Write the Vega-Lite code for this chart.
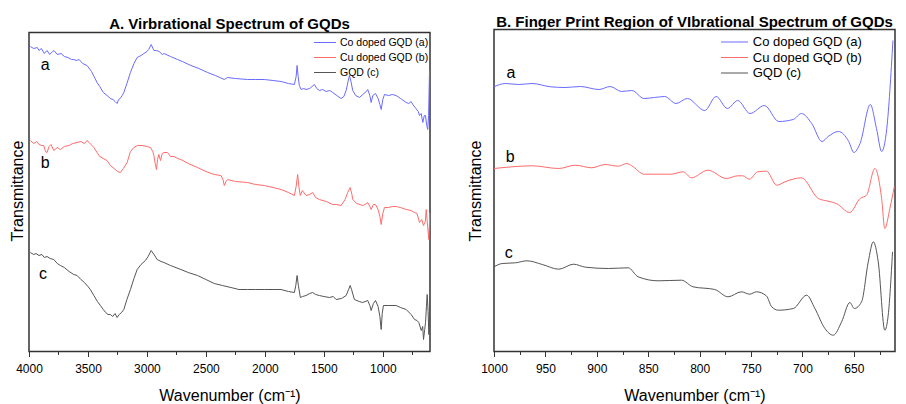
{
  "$schema": "https://vega.github.io/schema/vega-lite/v6.json",
  "background": "white",
  "padding": {"left": 9, "top": 13.5, "right": 0, "bottom": 0},
  "config": {
    "font": "Liberation Sans",
    "view": {"stroke": "#333333", "strokeWidth": 1.5},
    "concat": {"spacing": 35},
    "axis": {"labelFont": "Liberation Sans", "titleFont": "Liberation Sans", "labelColor": "#000000", "titleColor": "#000000", "titleFontWeight": "normal", "labelFontSize": 12, "titleFontSize": 16, "grid": false, "domain": false, "tickColor": "#333333"},
    "legend": {"labelFont": "Liberation Sans", "labelColor": "#000000"},
    "title": {"font": "Liberation Sans", "fontSize": 15, "fontWeight": "bold", "color": "#000000", "anchor": "middle"}
  },
  "datasets": {
    "left": [
      {"w":3989,"t":305,"s":"Co doped GQD (a)"},{"w":3960,"t":303,"s":"Co doped GQD (a)"},{"w":3930,"t":304,"s":"Co doped GQD (a)"},{"w":3915,"t":301,"s":"Co doped GQD (a)"},{"w":3895,"t":303,"s":"Co doped GQD (a)"},{"w":3870,"t":298,"s":"Co doped GQD (a)"},{"w":3847,"t":301,"s":"Co doped GQD (a)"},{"w":3825,"t":297,"s":"Co doped GQD (a)"},{"w":3800,"t":300,"s":"Co doped GQD (a)"},{"w":3788,"t":301,"s":"Co doped GQD (a)"},{"w":3760,"t":297,"s":"Co doped GQD (a)"},{"w":3728,"t":298,"s":"Co doped GQD (a)"},{"w":3700,"t":295,"s":"Co doped GQD (a)"},{"w":3670,"t":294,"s":"Co doped GQD (a)"},{"w":3640,"t":292,"s":"Co doped GQD (a)"},{"w":3620,"t":292,"s":"Co doped GQD (a)"},{"w":3600,"t":291,"s":"Co doped GQD (a)"},{"w":3575,"t":292,"s":"Co doped GQD (a)"},{"w":3545,"t":288,"s":"Co doped GQD (a)"},{"w":3508,"t":286,"s":"Co doped GQD (a)"},{"w":3470,"t":280,"s":"Co doped GQD (a)"},{"w":3440,"t":273,"s":"Co doped GQD (a)"},{"w":3423,"t":269,"s":"Co doped GQD (a)"},{"w":3400,"t":265,"s":"Co doped GQD (a)"},{"w":3370,"t":259,"s":"Co doped GQD (a)"},{"w":3338,"t":256,"s":"Co doped GQD (a)"},{"w":3310,"t":253,"s":"Co doped GQD (a)"},{"w":3287,"t":252,"s":"Co doped GQD (a)"},{"w":3270,"t":250,"s":"Co doped GQD (a)"},{"w":3253,"t":248,"s":"Co doped GQD (a)"},{"w":3240,"t":252,"s":"Co doped GQD (a)"},{"w":3227,"t":253,"s":"Co doped GQD (a)"},{"w":3210,"t":256,"s":"Co doped GQD (a)"},{"w":3196,"t":259,"s":"Co doped GQD (a)"},{"w":3170,"t":268,"s":"Co doped GQD (a)"},{"w":3140,"t":279,"s":"Co doped GQD (a)"},{"w":3110,"t":288,"s":"Co doped GQD (a)"},{"w":3083,"t":294,"s":"Co doped GQD (a)"},{"w":3050,"t":296,"s":"Co doped GQD (a)"},{"w":3026,"t":298,"s":"Co doped GQD (a)"},{"w":3000,"t":300,"s":"Co doped GQD (a)"},{"w":2985,"t":302,"s":"Co doped GQD (a)"},{"w":2964,"t":307,"s":"Co doped GQD (a)"},{"w":2941,"t":301,"s":"Co doped GQD (a)"},{"w":2920,"t":301,"s":"Co doped GQD (a)"},{"w":2896,"t":300,"s":"Co doped GQD (a)"},{"w":2870,"t":297,"s":"Co doped GQD (a)"},{"w":2856,"t":298,"s":"Co doped GQD (a)"},{"w":2800,"t":295,"s":"Co doped GQD (a)"},{"w":2741,"t":292,"s":"Co doped GQD (a)"},{"w":2700,"t":290,"s":"Co doped GQD (a)"},{"w":2627,"t":286,"s":"Co doped GQD (a)"},{"w":2560,"t":283,"s":"Co doped GQD (a)"},{"w":2486,"t":279,"s":"Co doped GQD (a)"},{"w":2420,"t":276,"s":"Co doped GQD (a)"},{"w":2344,"t":272,"s":"Co doped GQD (a)"},{"w":2316,"t":274,"s":"Co doped GQD (a)"},{"w":2250,"t":273,"s":"Co doped GQD (a)"},{"w":2147,"t":272,"s":"Co doped GQD (a)"},{"w":2080,"t":272,"s":"Co doped GQD (a)"},{"w":2005,"t":272,"s":"Co doped GQD (a)"},{"w":1930,"t":271,"s":"Co doped GQD (a)"},{"w":1863,"t":270,"s":"Co doped GQD (a)"},{"w":1800,"t":268,"s":"Co doped GQD (a)"},{"w":1750,"t":267,"s":"Co doped GQD (a)"},{"w":1735,"t":275,"s":"Co doped GQD (a)"},{"w":1727,"t":286,"s":"Co doped GQD (a)"},{"w":1718,"t":275,"s":"Co doped GQD (a)"},{"w":1708,"t":266,"s":"Co doped GQD (a)"},{"w":1693,"t":262,"s":"Co doped GQD (a)"},{"w":1670,"t":263,"s":"Co doped GQD (a)"},{"w":1651,"t":262,"s":"Co doped GQD (a)"},{"w":1620,"t":263,"s":"Co doped GQD (a)"},{"w":1580,"t":267,"s":"Co doped GQD (a)"},{"w":1560,"t":263,"s":"Co doped GQD (a)"},{"w":1538,"t":261,"s":"Co doped GQD (a)"},{"w":1510,"t":262,"s":"Co doped GQD (a)"},{"w":1481,"t":260,"s":"Co doped GQD (a)"},{"w":1450,"t":261,"s":"Co doped GQD (a)"},{"w":1425,"t":259,"s":"Co doped GQD (a)"},{"w":1390,"t":256,"s":"Co doped GQD (a)"},{"w":1354,"t":253,"s":"Co doped GQD (a)"},{"w":1330,"t":255,"s":"Co doped GQD (a)"},{"w":1311,"t":261,"s":"Co doped GQD (a)"},{"w":1295,"t":270,"s":"Co doped GQD (a)"},{"w":1283,"t":276,"s":"Co doped GQD (a)"},{"w":1270,"t":270,"s":"Co doped GQD (a)"},{"w":1255,"t":261,"s":"Co doped GQD (a)"},{"w":1230,"t":256,"s":"Co doped GQD (a)"},{"w":1198,"t":254,"s":"Co doped GQD (a)"},{"w":1170,"t":257,"s":"Co doped GQD (a)"},{"w":1140,"t":260,"s":"Co doped GQD (a)"},{"w":1128,"t":262,"s":"Co doped GQD (a)"},{"w":1110,"t":256,"s":"Co doped GQD (a)"},{"w":1099,"t":249,"s":"Co doped GQD (a)"},{"w":1085,"t":256,"s":"Co doped GQD (a)"},{"w":1062,"t":258,"s":"Co doped GQD (a)"},{"w":1040,"t":253,"s":"Co doped GQD (a)"},{"w":1025,"t":247,"s":"Co doped GQD (a)"},{"w":1014,"t":242,"s":"Co doped GQD (a)"},{"w":1000,"t":252,"s":"Co doped GQD (a)"},{"w":986,"t":257,"s":"Co doped GQD (a)"},{"w":950,"t":256,"s":"Co doped GQD (a)"},{"w":920,"t":257,"s":"Co doped GQD (a)"},{"w":887,"t":256,"s":"Co doped GQD (a)"},{"w":850,"t":253,"s":"Co doped GQD (a)"},{"w":802,"t":249,"s":"Co doped GQD (a)"},{"w":780,"t":248,"s":"Co doped GQD (a)"},{"w":760,"t":250,"s":"Co doped GQD (a)"},{"w":746,"t":247,"s":"Co doped GQD (a)"},{"w":720,"t":243,"s":"Co doped GQD (a)"},{"w":700,"t":240,"s":"Co doped GQD (a)"},{"w":689,"t":236,"s":"Co doped GQD (a)"},{"w":675,"t":238,"s":"Co doped GQD (a)"},{"w":661,"t":229,"s":"Co doped GQD (a)"},{"w":648,"t":236,"s":"Co doped GQD (a)"},{"w":638,"t":236,"s":"Co doped GQD (a)"},{"w":628,"t":226,"s":"Co doped GQD (a)"},{"w":619,"t":222,"s":"Co doped GQD (a)"},{"w":612,"t":236,"s":"Co doped GQD (a)"},{"w":604,"t":281,"s":"Co doped GQD (a)"},
      {"w":3989,"t":211,"s":"Cu doped GQD (b)"},{"w":3960,"t":208,"s":"Cu doped GQD (b)"},{"w":3935,"t":210,"s":"Cu doped GQD (b)"},{"w":3915,"t":207,"s":"Cu doped GQD (b)"},{"w":3890,"t":206,"s":"Cu doped GQD (b)"},{"w":3875,"t":206,"s":"Cu doped GQD (b)"},{"w":3860,"t":200,"s":"Cu doped GQD (b)"},{"w":3847,"t":199,"s":"Cu doped GQD (b)"},{"w":3830,"t":205,"s":"Cu doped GQD (b)"},{"w":3813,"t":207,"s":"Cu doped GQD (b)"},{"w":3790,"t":201,"s":"Cu doped GQD (b)"},{"w":3760,"t":204,"s":"Cu doped GQD (b)"},{"w":3734,"t":202,"s":"Cu doped GQD (b)"},{"w":3700,"t":205,"s":"Cu doped GQD (b)"},{"w":3660,"t":206,"s":"Cu doped GQD (b)"},{"w":3630,"t":208,"s":"Cu doped GQD (b)"},{"w":3592,"t":209,"s":"Cu doped GQD (b)"},{"w":3560,"t":210,"s":"Cu doped GQD (b)"},{"w":3530,"t":208,"s":"Cu doped GQD (b)"},{"w":3508,"t":211,"s":"Cu doped GQD (b)"},{"w":3490,"t":209,"s":"Cu doped GQD (b)"},{"w":3474,"t":207,"s":"Cu doped GQD (b)"},{"w":3450,"t":204,"s":"Cu doped GQD (b)"},{"w":3423,"t":199,"s":"Cu doped GQD (b)"},{"w":3400,"t":195,"s":"Cu doped GQD (b)"},{"w":3370,"t":193,"s":"Cu doped GQD (b)"},{"w":3338,"t":191,"s":"Cu doped GQD (b)"},{"w":3310,"t":186,"s":"Cu doped GQD (b)"},{"w":3278,"t":183,"s":"Cu doped GQD (b)"},{"w":3250,"t":180,"s":"Cu doped GQD (b)"},{"w":3225,"t":179,"s":"Cu doped GQD (b)"},{"w":3200,"t":183,"s":"Cu doped GQD (b)"},{"w":3168,"t":189,"s":"Cu doped GQD (b)"},{"w":3140,"t":200,"s":"Cu doped GQD (b)"},{"w":3111,"t":204,"s":"Cu doped GQD (b)"},{"w":3080,"t":206,"s":"Cu doped GQD (b)"},{"w":3041,"t":206,"s":"Cu doped GQD (b)"},{"w":3000,"t":205,"s":"Cu doped GQD (b)"},{"w":2970,"t":204,"s":"Cu doped GQD (b)"},{"w":2950,"t":200,"s":"Cu doped GQD (b)"},{"w":2941,"t":196,"s":"Cu doped GQD (b)"},{"w":2930,"t":188,"s":"Cu doped GQD (b)"},{"w":2919,"t":182,"s":"Cu doped GQD (b)"},{"w":2910,"t":192,"s":"Cu doped GQD (b)"},{"w":2899,"t":197,"s":"Cu doped GQD (b)"},{"w":2885,"t":191,"s":"Cu doped GQD (b)"},{"w":2870,"t":198,"s":"Cu doped GQD (b)"},{"w":2856,"t":199,"s":"Cu doped GQD (b)"},{"w":2826,"t":199,"s":"Cu doped GQD (b)"},{"w":2800,"t":195,"s":"Cu doped GQD (b)"},{"w":2770,"t":195,"s":"Cu doped GQD (b)"},{"w":2740,"t":193,"s":"Cu doped GQD (b)"},{"w":2712,"t":192,"s":"Cu doped GQD (b)"},{"w":2650,"t":188,"s":"Cu doped GQD (b)"},{"w":2571,"t":184,"s":"Cu doped GQD (b)"},{"w":2500,"t":180,"s":"Cu doped GQD (b)"},{"w":2429,"t":177,"s":"Cu doped GQD (b)"},{"w":2372,"t":176,"s":"Cu doped GQD (b)"},{"w":2355,"t":172,"s":"Cu doped GQD (b)"},{"w":2344,"t":166,"s":"Cu doped GQD (b)"},{"w":2330,"t":170,"s":"Cu doped GQD (b)"},{"w":2316,"t":172,"s":"Cu doped GQD (b)"},{"w":2250,"t":170,"s":"Cu doped GQD (b)"},{"w":2147,"t":169,"s":"Cu doped GQD (b)"},{"w":2080,"t":167,"s":"Cu doped GQD (b)"},{"w":2005,"t":166,"s":"Cu doped GQD (b)"},{"w":1930,"t":164,"s":"Cu doped GQD (b)"},{"w":1863,"t":162,"s":"Cu doped GQD (b)"},{"w":1800,"t":159,"s":"Cu doped GQD (b)"},{"w":1750,"t":156,"s":"Cu doped GQD (b)"},{"w":1735,"t":165,"s":"Cu doped GQD (b)"},{"w":1722,"t":177,"s":"Cu doped GQD (b)"},{"w":1712,"t":165,"s":"Cu doped GQD (b)"},{"w":1700,"t":156,"s":"Cu doped GQD (b)"},{"w":1682,"t":161,"s":"Cu doped GQD (b)"},{"w":1651,"t":156,"s":"Cu doped GQD (b)"},{"w":1620,"t":157,"s":"Cu doped GQD (b)"},{"w":1595,"t":159,"s":"Cu doped GQD (b)"},{"w":1570,"t":154,"s":"Cu doped GQD (b)"},{"w":1538,"t":152,"s":"Cu doped GQD (b)"},{"w":1480,"t":150,"s":"Cu doped GQD (b)"},{"w":1425,"t":147,"s":"Cu doped GQD (b)"},{"w":1390,"t":147,"s":"Cu doped GQD (b)"},{"w":1354,"t":146,"s":"Cu doped GQD (b)"},{"w":1320,"t":152,"s":"Cu doped GQD (b)"},{"w":1298,"t":159,"s":"Cu doped GQD (b)"},{"w":1277,"t":164,"s":"Cu doped GQD (b)"},{"w":1262,"t":157,"s":"Cu doped GQD (b)"},{"w":1255,"t":152,"s":"Cu doped GQD (b)"},{"w":1220,"t":148,"s":"Cu doped GQD (b)"},{"w":1170,"t":146,"s":"Cu doped GQD (b)"},{"w":1150,"t":147,"s":"Cu doped GQD (b)"},{"w":1128,"t":149,"s":"Cu doped GQD (b)"},{"w":1110,"t":145,"s":"Cu doped GQD (b)"},{"w":1099,"t":142,"s":"Cu doped GQD (b)"},{"w":1080,"t":147,"s":"Cu doped GQD (b)"},{"w":1062,"t":147,"s":"Cu doped GQD (b)"},{"w":1040,"t":142,"s":"Cu doped GQD (b)"},{"w":1025,"t":135,"s":"Cu doped GQD (b)"},{"w":1014,"t":127,"s":"Cu doped GQD (b)"},{"w":1000,"t":138,"s":"Cu doped GQD (b)"},{"w":986,"t":144,"s":"Cu doped GQD (b)"},{"w":950,"t":144,"s":"Cu doped GQD (b)"},{"w":920,"t":145,"s":"Cu doped GQD (b)"},{"w":887,"t":145,"s":"Cu doped GQD (b)"},{"w":850,"t":144,"s":"Cu doped GQD (b)"},{"w":802,"t":142,"s":"Cu doped GQD (b)"},{"w":760,"t":141,"s":"Cu doped GQD (b)"},{"w":731,"t":139,"s":"Cu doped GQD (b)"},{"w":710,"t":138,"s":"Cu doped GQD (b)"},{"w":689,"t":129,"s":"Cu doped GQD (b)"},{"w":670,"t":132,"s":"Cu doped GQD (b)"},{"w":655,"t":126,"s":"Cu doped GQD (b)"},{"w":640,"t":130,"s":"Cu doped GQD (b)"},{"w":632,"t":142,"s":"Cu doped GQD (b)"},{"w":620,"t":125,"s":"Cu doped GQD (b)"},{"w":610,"t":112,"s":"Cu doped GQD (b)"},{"w":601,"t":139,"s":"Cu doped GQD (b)"},
      {"w":3989,"t":99,"s":"GQD (c)"},{"w":3960,"t":97,"s":"GQD (c)"},{"w":3940,"t":98,"s":"GQD (c)"},{"w":3915,"t":96,"s":"GQD (c)"},{"w":3890,"t":97,"s":"GQD (c)"},{"w":3870,"t":94,"s":"GQD (c)"},{"w":3847,"t":95,"s":"GQD (c)"},{"w":3820,"t":93,"s":"GQD (c)"},{"w":3790,"t":92,"s":"GQD (c)"},{"w":3760,"t":88,"s":"GQD (c)"},{"w":3734,"t":86,"s":"GQD (c)"},{"w":3700,"t":84,"s":"GQD (c)"},{"w":3660,"t":80,"s":"GQD (c)"},{"w":3620,"t":77,"s":"GQD (c)"},{"w":3592,"t":76,"s":"GQD (c)"},{"w":3560,"t":72,"s":"GQD (c)"},{"w":3530,"t":69,"s":"GQD (c)"},{"w":3500,"t":65,"s":"GQD (c)"},{"w":3480,"t":62,"s":"GQD (c)"},{"w":3450,"t":56,"s":"GQD (c)"},{"w":3420,"t":50,"s":"GQD (c)"},{"w":3395,"t":46,"s":"GQD (c)"},{"w":3370,"t":42,"s":"GQD (c)"},{"w":3350,"t":39,"s":"GQD (c)"},{"w":3330,"t":37,"s":"GQD (c)"},{"w":3310,"t":37,"s":"GQD (c)"},{"w":3290,"t":35,"s":"GQD (c)"},{"w":3270,"t":38,"s":"GQD (c)"},{"w":3253,"t":34,"s":"GQD (c)"},{"w":3235,"t":37,"s":"GQD (c)"},{"w":3215,"t":39,"s":"GQD (c)"},{"w":3196,"t":42,"s":"GQD (c)"},{"w":3170,"t":52,"s":"GQD (c)"},{"w":3140,"t":62,"s":"GQD (c)"},{"w":3110,"t":73,"s":"GQD (c)"},{"w":3083,"t":82,"s":"GQD (c)"},{"w":3050,"t":87,"s":"GQD (c)"},{"w":3013,"t":91,"s":"GQD (c)"},{"w":2990,"t":95,"s":"GQD (c)"},{"w":2964,"t":101,"s":"GQD (c)"},{"w":2940,"t":97,"s":"GQD (c)"},{"w":2913,"t":92,"s":"GQD (c)"},{"w":2880,"t":90,"s":"GQD (c)"},{"w":2856,"t":89,"s":"GQD (c)"},{"w":2800,"t":86,"s":"GQD (c)"},{"w":2712,"t":82,"s":"GQD (c)"},{"w":2650,"t":79,"s":"GQD (c)"},{"w":2571,"t":76,"s":"GQD (c)"},{"w":2500,"t":72,"s":"GQD (c)"},{"w":2429,"t":68,"s":"GQD (c)"},{"w":2360,"t":66,"s":"GQD (c)"},{"w":2288,"t":64,"s":"GQD (c)"},{"w":2220,"t":62,"s":"GQD (c)"},{"w":2147,"t":62,"s":"GQD (c)"},{"w":2080,"t":62,"s":"GQD (c)"},{"w":2005,"t":62,"s":"GQD (c)"},{"w":1930,"t":62,"s":"GQD (c)"},{"w":1863,"t":62,"s":"GQD (c)"},{"w":1800,"t":60,"s":"GQD (c)"},{"w":1750,"t":59,"s":"GQD (c)"},{"w":1738,"t":66,"s":"GQD (c)"},{"w":1727,"t":76,"s":"GQD (c)"},{"w":1716,"t":66,"s":"GQD (c)"},{"w":1699,"t":54,"s":"GQD (c)"},{"w":1680,"t":55,"s":"GQD (c)"},{"w":1651,"t":56,"s":"GQD (c)"},{"w":1620,"t":58,"s":"GQD (c)"},{"w":1595,"t":59,"s":"GQD (c)"},{"w":1570,"t":57,"s":"GQD (c)"},{"w":1538,"t":56,"s":"GQD (c)"},{"w":1500,"t":55,"s":"GQD (c)"},{"w":1453,"t":54,"s":"GQD (c)"},{"w":1420,"t":55,"s":"GQD (c)"},{"w":1396,"t":52,"s":"GQD (c)"},{"w":1350,"t":53,"s":"GQD (c)"},{"w":1311,"t":56,"s":"GQD (c)"},{"w":1290,"t":62,"s":"GQD (c)"},{"w":1277,"t":66,"s":"GQD (c)"},{"w":1265,"t":62,"s":"GQD (c)"},{"w":1241,"t":52,"s":"GQD (c)"},{"w":1200,"t":50,"s":"GQD (c)"},{"w":1170,"t":49,"s":"GQD (c)"},{"w":1128,"t":51,"s":"GQD (c)"},{"w":1110,"t":46,"s":"GQD (c)"},{"w":1099,"t":41,"s":"GQD (c)"},{"w":1080,"t":48,"s":"GQD (c)"},{"w":1062,"t":51,"s":"GQD (c)"},{"w":1040,"t":45,"s":"GQD (c)"},{"w":1025,"t":35,"s":"GQD (c)"},{"w":1014,"t":22,"s":"GQD (c)"},{"w":1005,"t":38,"s":"GQD (c)"},{"w":995,"t":46,"s":"GQD (c)"},{"w":950,"t":46,"s":"GQD (c)"},{"w":887,"t":46,"s":"GQD (c)"},{"w":850,"t":44,"s":"GQD (c)"},{"w":802,"t":42,"s":"GQD (c)"},{"w":760,"t":37,"s":"GQD (c)"},{"w":731,"t":32,"s":"GQD (c)"},{"w":710,"t":31,"s":"GQD (c)"},{"w":695,"t":29,"s":"GQD (c)"},{"w":674,"t":21,"s":"GQD (c)"},{"w":662,"t":25,"s":"GQD (c)"},{"w":655,"t":12,"s":"GQD (c)"},{"w":645,"t":22,"s":"GQD (c)"},{"w":638,"t":29,"s":"GQD (c)"},{"w":630,"t":45,"s":"GQD (c)"},{"w":624,"t":57,"s":"GQD (c)"},{"w":616,"t":40,"s":"GQD (c)"},{"w":610,"t":17,"s":"GQD (c)"},{"w":603,"t":40,"s":"GQD (c)"},{"w":601,"t":56,"s":"GQD (c)"}
    ],
    "leftLabels": [
      {"w":3862,"t":281.7,"label":"a"},{"w":3862,"t":184,"label":"b"},{"w":3881,"t":72.3,"label":"c"}
    ],
    "leftFrame": [
      {"w1":600,"w2":4000,"t1":0,"t2":319}
    ],
    "right": [
      {"w":1000,"t":264.7,"s":"Co doped GQD (a)"},{"w":989,"t":268,"s":"Co doped GQD (a)"},{"w":976,"t":267,"s":"Co doped GQD (a)"},{"w":963,"t":268,"s":"Co doped GQD (a)"},{"w":945,"t":264.7,"s":"Co doped GQD (a)"},{"w":931,"t":264,"s":"Co doped GQD (a)"},{"w":916,"t":265,"s":"Co doped GQD (a)"},{"w":898,"t":262,"s":"Co doped GQD (a)"},{"w":887,"t":265,"s":"Co doped GQD (a)"},{"w":876,"t":260,"s":"Co doped GQD (a)"},{"w":866,"t":261,"s":"Co doped GQD (a)"},{"w":854,"t":253,"s":"Co doped GQD (a)"},{"w":844,"t":254,"s":"Co doped GQD (a)"},{"w":834,"t":255,"s":"Co doped GQD (a)"},{"w":823,"t":248,"s":"Co doped GQD (a)"},{"w":812,"t":253,"s":"Co doped GQD (a)"},{"w":795,"t":241,"s":"Co doped GQD (a)"},{"w":784,"t":255,"s":"Co doped GQD (a)"},{"w":773,"t":243,"s":"Co doped GQD (a)"},{"w":763,"t":251,"s":"Co doped GQD (a)"},{"w":751,"t":238,"s":"Co doped GQD (a)"},{"w":737,"t":246,"s":"Co doped GQD (a)"},{"w":723,"t":230,"s":"Co doped GQD (a)"},{"w":709,"t":232,"s":"Co doped GQD (a)"},{"w":701,"t":238,"s":"Co doped GQD (a)"},{"w":691,"t":228,"s":"Co doped GQD (a)"},{"w":681,"t":210,"s":"Co doped GQD (a)"},{"w":675,"t":215,"s":"Co doped GQD (a)"},{"w":665,"t":220,"s":"Co doped GQD (a)"},{"w":655,"t":210,"s":"Co doped GQD (a)"},{"w":650,"t":199,"s":"Co doped GQD (a)"},{"w":644,"t":208,"s":"Co doped GQD (a)"},{"w":634,"t":247,"s":"Co doped GQD (a)"},{"w":628,"t":223,"s":"Co doped GQD (a)"},{"w":623,"t":200,"s":"Co doped GQD (a)"},{"w":618,"t":223,"s":"Co doped GQD (a)"},{"w":612,"t":311,"s":"Co doped GQD (a)"},
      {"w":1000,"t":183,"s":"Cu doped GQD (b)"},{"w":982.5,"t":184.7,"s":"Cu doped GQD (b)"},{"w":963,"t":185.7,"s":"Cu doped GQD (b)"},{"w":937,"t":183,"s":"Cu doped GQD (b)"},{"w":921,"t":186.3,"s":"Cu doped GQD (b)"},{"w":905,"t":183.7,"s":"Cu doped GQD (b)"},{"w":892,"t":187,"s":"Cu doped GQD (b)"},{"w":879,"t":185.3,"s":"Cu doped GQD (b)"},{"w":871,"t":188,"s":"Cu doped GQD (b)"},{"w":866,"t":185.7,"s":"Cu doped GQD (b)"},{"w":854,"t":177.3,"s":"Cu doped GQD (b)"},{"w":828,"t":177.3,"s":"Cu doped GQD (b)"},{"w":816,"t":179.7,"s":"Cu doped GQD (b)"},{"w":808,"t":173.7,"s":"Cu doped GQD (b)"},{"w":792,"t":181.3,"s":"Cu doped GQD (b)"},{"w":774,"t":173,"s":"Cu doped GQD (b)"},{"w":763,"t":175.7,"s":"Cu doped GQD (b)"},{"w":758,"t":175.7,"s":"Cu doped GQD (b)"},{"w":751.6,"t":172.3,"s":"Cu doped GQD (b)"},{"w":743.5,"t":179.7,"s":"Cu doped GQD (b)"},{"w":735,"t":180.3,"s":"Cu doped GQD (b)"},{"w":725,"t":166.3,"s":"Cu doped GQD (b)"},{"w":717,"t":169.7,"s":"Cu doped GQD (b)"},{"w":701,"t":173.7,"s":"Cu doped GQD (b)"},{"w":684.6,"t":153,"s":"Cu doped GQD (b)"},{"w":675,"t":150.3,"s":"Cu doped GQD (b)"},{"w":667,"t":148,"s":"Cu doped GQD (b)"},{"w":654,"t":139,"s":"Cu doped GQD (b)"},{"w":644,"t":153,"s":"Cu doped GQD (b)"},{"w":637.7,"t":156.3,"s":"Cu doped GQD (b)"},{"w":629.6,"t":183,"s":"Cu doped GQD (b)"},{"w":623,"t":153,"s":"Cu doped GQD (b)"},{"w":619.9,"t":123,"s":"Cu doped GQD (b)"},{"w":615,"t":143,"s":"Cu doped GQD (b)"},{"w":610.7,"t":164.7,"s":"Cu doped GQD (b)"},
      {"w":1000,"t":84.7,"s":"GQD (c)"},{"w":992,"t":88,"s":"GQD (c)"},{"w":979,"t":88.7,"s":"GQD (c)"},{"w":968,"t":90.7,"s":"GQD (c)"},{"w":953,"t":87,"s":"GQD (c)"},{"w":937,"t":82.3,"s":"GQD (c)"},{"w":922.6,"t":87.3,"s":"GQD (c)"},{"w":911,"t":84.3,"s":"GQD (c)"},{"w":888.6,"t":83,"s":"GQD (c)"},{"w":869.5,"t":83.7,"s":"GQD (c)"},{"w":859.8,"t":74.7,"s":"GQD (c)"},{"w":840.4,"t":70.7,"s":"GQD (c)"},{"w":817.7,"t":71.3,"s":"GQD (c)"},{"w":806.4,"t":64.7,"s":"GQD (c)"},{"w":785.3,"t":62,"s":"GQD (c)"},{"w":772.4,"t":54.7,"s":"GQD (c)"},{"w":759.4,"t":59.7,"s":"GQD (c)"},{"w":751.3,"t":57.3,"s":"GQD (c)"},{"w":744.8,"t":59.7,"s":"GQD (c)"},{"w":735.1,"t":55.7,"s":"GQD (c)"},{"w":729.9,"t":44.7,"s":"GQD (c)"},{"w":723.4,"t":41.3,"s":"GQD (c)"},{"w":708.9,"t":43,"s":"GQD (c)"},{"w":695.9,"t":56.3,"s":"GQD (c)"},{"w":687.9,"t":43,"s":"GQD (c)"},{"w":678.2,"t":23,"s":"GQD (c)"},{"w":670,"t":16.3,"s":"GQD (c)"},{"w":661.9,"t":29.7,"s":"GQD (c)"},{"w":653.9,"t":49,"s":"GQD (c)"},{"w":649.6,"t":43,"s":"GQD (c)"},{"w":642.5,"t":49.7,"s":"GQD (c)"},{"w":636,"t":89.7,"s":"GQD (c)"},{"w":631.1,"t":109.7,"s":"GQD (c)"},{"w":626.3,"t":89.7,"s":"GQD (c)"},{"w":619.9,"t":21.3,"s":"GQD (c)"},{"w":616.6,"t":36.3,"s":"GQD (c)"},{"w":612.4,"t":99.7,"s":"GQD (c)"}
    ],
    "rightLabels": [
      {"w":983.5,"t":273.7,"label":"a"},{"w":984.2,"t":189.7,"label":"b"},{"w":985.7,"t":93.7,"label":"c"}
    ]
  },
  "hconcat": [
    {
      "width": 401,
      "height": 322,
      "view": {"stroke": null},
      "title": {"text": "A. Virbrational Spectrum of GQDs", "offset": -2},
      "layer": [
        {
          "data": {"name": "leftFrame"},
          "mark": {"type": "rect", "fill": "transparent", "stroke": "#333333", "strokeWidth": 1.5},
          "encoding": {
            "x": {"field": "w1", "type": "quantitative", "axis": null},
            "x2": {"field": "w2"},
            "y": {"field": "t1", "type": "quantitative"},
            "y2": {"field": "t2"}
          }
        },
        {
          "data": {"name": "left"},
          "mark": {"type": "line", "strokeWidth": 1, "clip": true},
          "encoding": {
            "x": {"field": "w", "type": "quantitative", "scale": {"domain": [600, 4000], "reverse": true, "nice": false, "zero": false},
              "axis": {"title": "Wavenumber (cm⁻¹)", "format": "d", "orient": "bottom", "values": [4000,3500,3000,2500,2000,1500,1000], "tickSize": 5, "labelOverlap": false, "labelFlush": false, "labelPadding": 7, "titlePadding": 13}},
            "y": {"field": "t", "type": "quantitative", "scale": {"domain": [0, 322], "nice": false, "zero": false},
              "axis": {"title": "Transmittance", "labels": false, "ticks": false, "titlePadding": 4}},
            "color": {"field": "s", "type": "nominal",
              "scale": {"domain": ["Co doped GQD (a)", "Cu doped GQD (b)", "GQD (c)"], "range": ["#6a6aff", "#ff6a6a", "#555555"]},
              "legend": {"title": null, "orient": "none", "legendX": 290, "legendY": 7, "symbolType": "M-2,0H2", "symbolSize": 121, "symbolStrokeWidth": 1, "labelFontSize": 10.5, "rowPadding": 3, "labelOffset": 9, "padding": 0}}
          }
        },
        {
          "data": {"name": "leftLabels"},
          "mark": {"type": "text", "fontSize": 16, "baseline": "alphabetic", "align": "center", "font": "Liberation Sans", "color": "#000000"},
          "encoding": {
            "x": {"field": "w", "type": "quantitative",
              "axis": {"title": null, "orient": "bottom", "values": [3750,3250,2750,2250,1750,1250,750], "labels": false, "tickSize": 3}},
            "y": {"field": "t", "type": "quantitative"},
            "text": {"field": "label", "type": "nominal"}
          }
        }
      ],
      "resolve": {"axis": {"x": "independent"}}
    },
    {
      "width": 401,
      "height": 322,
      "title": {"text": "B. Finger Print Region of VIbrational Spectrum of GQDs", "offset": -0.5},
      "layer": [
        {
          "data": {"name": "right"},
          "mark": {"type": "line", "strokeWidth": 1, "clip": true, "interpolate": "monotone"},
          "encoding": {
            "x": {"field": "w", "type": "quantitative", "scale": {"domain": [610, 1000], "reverse": true, "nice": false, "zero": false},
              "axis": {"title": "Wavenumber (cm⁻¹)", "format": "d", "orient": "bottom", "values": [1000,950,900,850,800,750,700,650], "tickSize": 5, "labelOverlap": false, "labelFlush": false, "labelPadding": 7, "titlePadding": 13}},
            "y": {"field": "t", "type": "quantitative", "scale": {"domain": [0, 322], "nice": false, "zero": false},
              "axis": {"title": "Transmittance", "labels": false, "ticks": false, "titlePadding": 11}},
            "color": {"field": "s", "type": "nominal",
              "scale": {"domain": ["Co doped GQD (a)", "Cu doped GQD (b)", "GQD (c)"], "range": ["#6a6aff", "#ff6a6a", "#555555"]},
              "legend": {"title": null, "orient": "none", "legendX": 233, "legendY": 5, "symbolType": "M-2,0H2", "symbolSize": 182, "symbolStrokeWidth": 1, "labelFontSize": 13, "rowPadding": 0.5, "labelOffset": 10.75, "padding": 0}}
          }
        },
        {
          "data": {"name": "rightLabels"},
          "mark": {"type": "text", "fontSize": 16, "baseline": "alphabetic", "align": "center", "font": "Liberation Sans", "color": "#000000"},
          "encoding": {
            "x": {"field": "w", "type": "quantitative",
              "axis": {"title": null, "orient": "bottom", "values": [975,925,875,825,775,725,675,625], "labels": false, "tickSize": 3}},
            "y": {"field": "t", "type": "quantitative"},
            "text": {"field": "label", "type": "nominal"}
          }
        }
      ],
      "resolve": {"axis": {"x": "independent"}}
    }
  ],
  "resolve": {"scale": {"x": "independent", "y": "independent", "color": "independent"}, "legend": {"color": "independent"}}
}
